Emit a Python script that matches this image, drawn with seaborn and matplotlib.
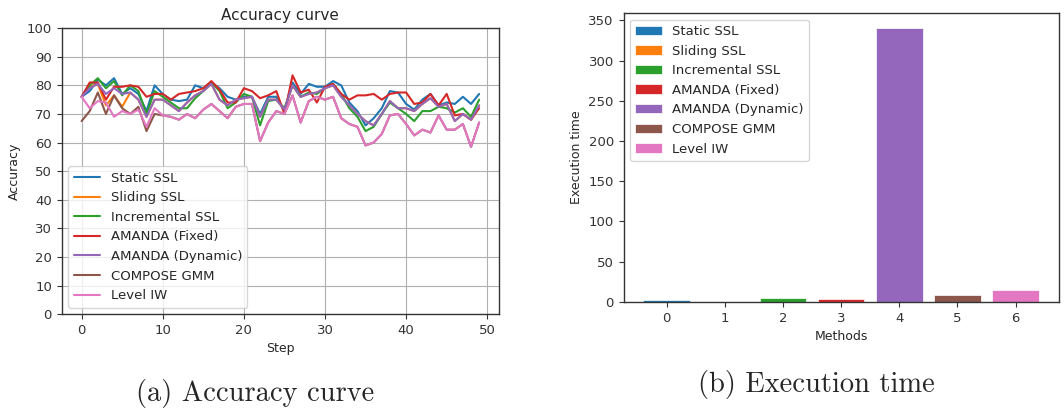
import numpy as np
import pandas as pd
import matplotlib
matplotlib.use("Agg")
import matplotlib.pyplot as plt
import seaborn as sns

methods = ["Static SSL", "Sliding SSL", "Incremental SSL", "AMANDA (Fixed)",
           "AMANDA (Dynamic)", "COMPOSE GMM", "Level IW"]
steps = list(range(50))

static_ssl = [76, 78, 82, 80, 82.5, 77, 79, 77, 71, 80, 77, 75, 74.5, 75, 80, 79, 81, 79, 76, 75,
              76, 76, 70, 76, 76, 71, 81, 77, 80.5, 79.5, 79.5, 81.5, 80, 74, 71, 66, 68.5, 72, 78, 77.5,
              73.5, 71.5, 75, 77, 73, 74, 73.5, 76, 73.5, 77]
sliding_ssl = [76, 79.5, 80.5, 73, 76.5, 72.5, 77.5, 75, 69, 75, 75, 73, 71, 74, 76.5, 78, 80.5, 75, 73, 75,
               75.5, 76, 69, 75, 75, 71.5, 80, 76, 77, 77.5, 79, 80, 76, 73, 70, 67.5, 66, 70, 74.5, 72,
               72, 71, 73.5, 75.5, 72.5, 73.5, 67.5, 70, 68, 73]
incremental_ssl = [76, 80, 82.5, 79, 81.5, 76.5, 80, 78, 70, 78, 76, 74, 72, 72, 75.5, 78, 81, 78, 72, 74,
                   77, 76, 66, 74.5, 75, 72, 80, 76, 77.5, 77, 79, 80.5, 77, 72, 69, 64, 65.5, 70, 74, 72,
                   70, 67.5, 71, 71, 72.5, 72, 70.5, 72, 69, 75]
amanda_fixed = [76, 81, 81, 75, 79.5, 79.5, 80, 79.5, 76, 77, 77, 75, 77, 77.5, 78, 79, 81.5, 78.5, 74, 74,
                79, 78, 75.5, 76.5, 78, 70, 83.5, 77.5, 78.5, 74, 79.5, 80.5, 77, 75, 76.5, 76.5, 77, 75, 77, 77.5,
                77.5, 73.5, 74, 77, 73, 77, 69.5, 70, 68, 72]
amanda_dynamic = [76, 79, 80.5, 77, 79, 77, 77.5, 75, 69, 75, 75, 73, 71, 74, 76.5, 78, 80.5, 75, 73, 75,
                  75.5, 76, 69, 75, 75, 71.5, 80, 76, 77, 77.5, 79, 80, 76, 73, 70, 67.5, 66, 70, 74.5, 72,
                  72, 71, 73.5, 75.5, 72.5, 73.5, 67.5, 70, 68, 73]
compose_gmm = [67.5, 71, 77.5, 70, 76.5, 72, 70, 72.5, 64, 70, 69.5, 69, 68, 70, 68.5, 71.5, 73.5, 71, 68.5, 72.5,
               73.5, 73.5, 60.5, 67, 71, 70, 76.5, 67, 74.5, 76, 75, 76, 68.5, 66.5, 65.5, 59, 60, 63, 69.5, 70,
               66.5, 62.5, 64.5, 63.5, 69.5, 64.5, 64.5, 66.5, 58.5, 67]
level_iw = [76, 72, 74.5, 74, 69, 71, 70, 71.5, 65.5, 72, 69.5, 69, 68, 70, 68.5, 71.5, 73.5, 71, 68.5, 72.5,
            73.5, 73.5, 60.5, 67, 71, 70, 76.5, 67, 74.5, 76, 75, 76, 68.5, 66.5, 65.5, 59, 60, 63, 69.5, 70,
            66.5, 62.5, 64.5, 63.5, 69.5, 64.5, 64.5, 66.5, 58.5, 67]
accuracy = [static_ssl, sliding_ssl, incremental_ssl, amanda_fixed, amanda_dynamic, compose_gmm, level_iw]

method_idx = [0, 1, 2, 3, 4, 5, 6]
exec_time = [2, 0.3, 5, 3.5, 341, 8, 15]

sns.set_style("ticks")
colors = sns.color_palette("tab10", 7)

fig = plt.figure(figsize=(10.64, 4.08), dpi=100)
ax1 = fig.add_axes([0.058, 0.230, 0.411, 0.701])
ax2 = fig.add_axes([0.586, 0.260, 0.409, 0.708])

for name, vals, c in zip(methods, accuracy, colors):
    sns.lineplot(x=steps, y=vals, label=name, color=c, ax=ax1, linewidth=1.5)
ax1.set_ylim(0, 100)
ax1.set_xlim(-2.45, 51.45)
ax1.set_yticks(range(0, 101, 10))
ax1.set_xticks(range(0, 51, 10))
ax1.grid(True, color="#b0b0b0", linewidth=0.8)
ax1.set_title("Accuracy curve", fontsize=11)
ax1.set_xlabel("Step", fontsize=9)
ax1.set_ylabel("Accuracy", fontsize=9)
ax1.legend(loc="lower left", fontsize=9.5)

bar_df = pd.DataFrame({"idx": method_idx, "time": exec_time, "Method": methods})
sns.barplot(data=bar_df, x="idx", y="time", hue="Method", palette=colors, dodge=False,
            saturation=1, width=0.8, edgecolor="white", linewidth=0.5, ax=ax2)
ax2.set_xlim(-0.74, 6.74)
ax2.set_ylim(0, 359)
ax2.set_xlabel("Methods", fontsize=9)
ax2.set_ylabel("Execution time", fontsize=9)
ax2.legend(loc="upper left", fontsize=9.5)

for ax in (ax1, ax2):
    ax.tick_params(labelsize=9.5, colors="#333333", labelcolor="#333333")
    for s in ax.spines.values():
        s.set_visible(True)
        s.set_color("#333333")
        s.set_linewidth(1)

fig.text(0.24, 0.035, "(a) Accuracy curve", family="cmr10", fontsize=20.5, ha="center", va="center")
fig.text(0.767, 0.057, "(b) Execution time", family="cmr10", fontsize=20.5, ha="center", va="center")

fig.savefig("out.png", dpi=100)
